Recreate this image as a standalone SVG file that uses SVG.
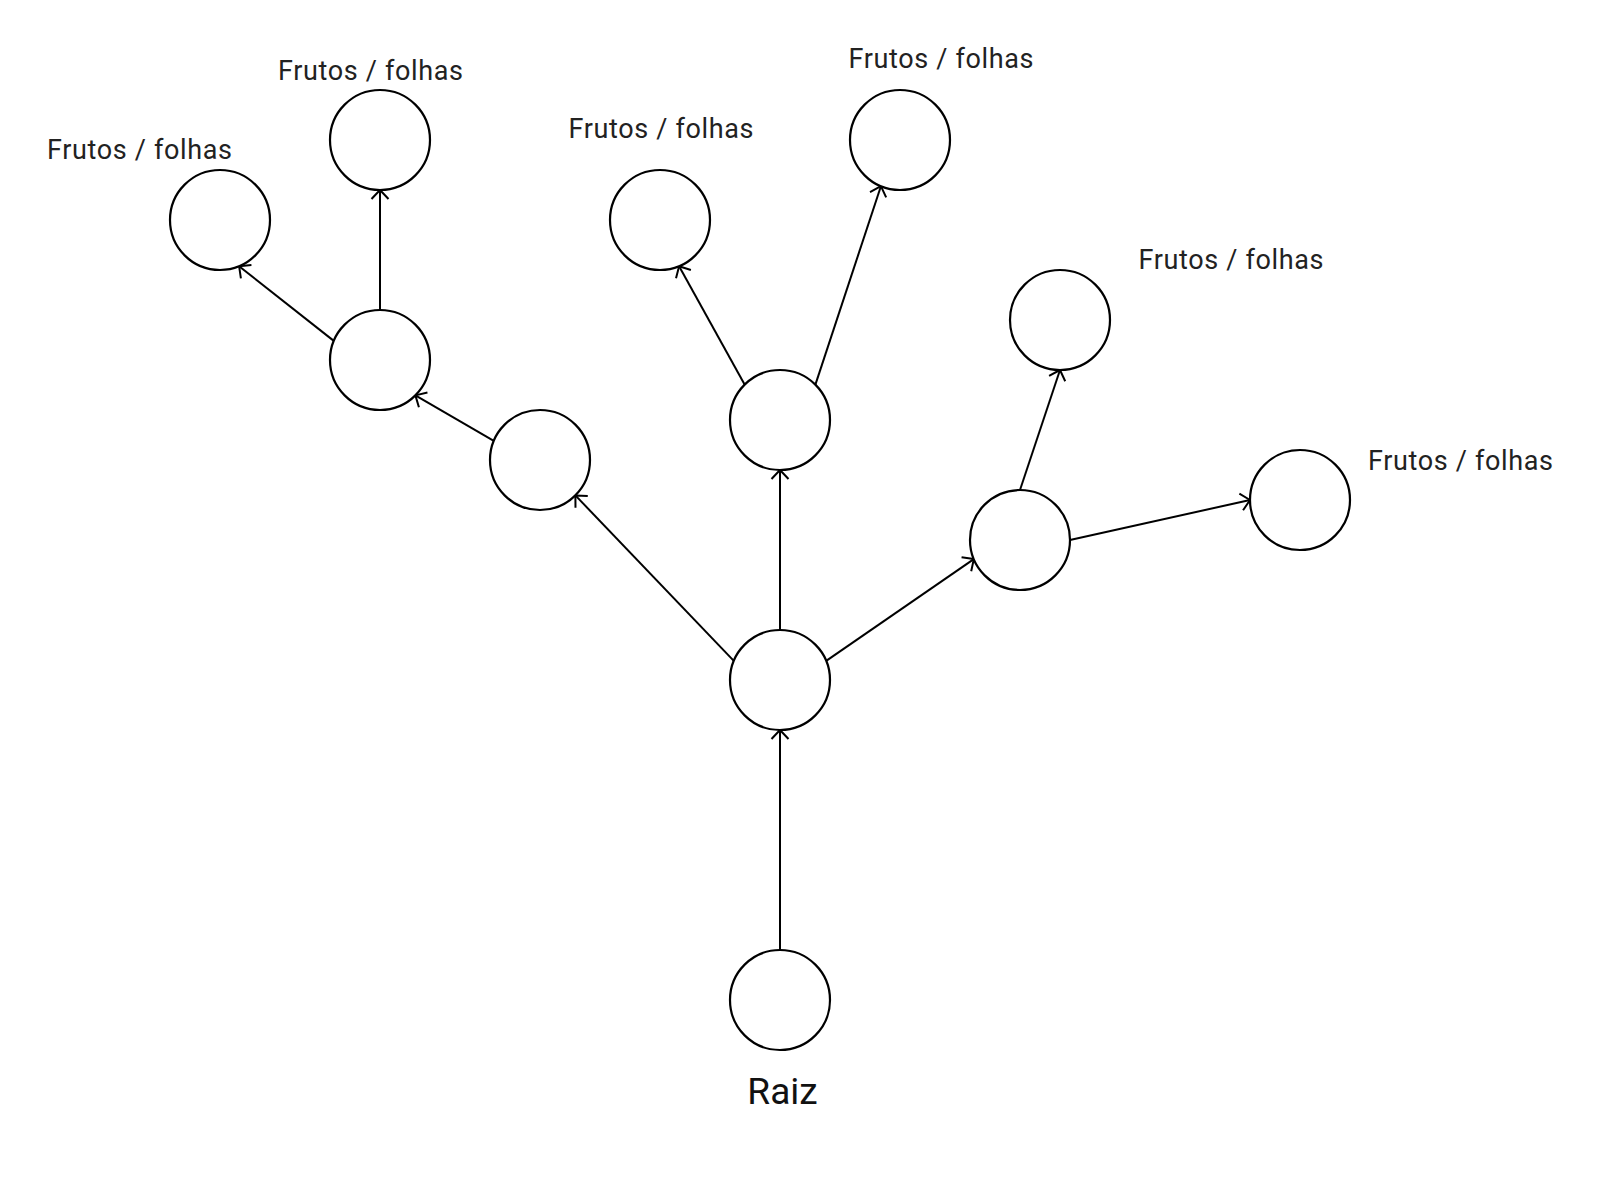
<svg xmlns="http://www.w3.org/2000/svg" width="1602" height="1184" viewBox="0 0 1602 1184">
<style>
.node{fill:#fff;stroke:#000;stroke-width:2.2}
.edge{stroke:#000;stroke-width:2;fill:none;marker-end:url(#arr)}
.lbl{font-family:Roboto,"Liberation Sans",sans-serif;font-size:27px;fill:#222}
.root{font-family:Roboto,"Liberation Sans",sans-serif;font-size:37px;fill:#111;text-anchor:middle}
</style>
<defs>
<marker id="arr" markerUnits="userSpaceOnUse" markerWidth="24" markerHeight="24" viewBox="-12 -12 24 24" refX="0" refY="0" orient="auto">
<path d="M-9,-8.5 L0,0 L-9,8.5" fill="none" stroke="#000" stroke-width="2" stroke-linejoin="round"/>
</marker>
</defs>
<rect width="1602" height="1184" fill="#fff"/>
<g id="connectors">
<line class="edge" x1="780" y1="950" x2="780" y2="730"/>
<line class="edge" x1="733.8" y1="660.9" x2="575.4" y2="495.4"/>
<line class="edge" x1="780" y1="630" x2="780" y2="470"/>
<line class="edge" x1="826.2" y1="660.9" x2="973.8" y2="559.1"/>
<line class="edge" x1="493.8" y1="440.9" x2="415.4" y2="395.4"/>
<line class="edge" x1="333.8" y1="340.9" x2="239.1" y2="266.2"/>
<line class="edge" x1="380" y1="310" x2="380" y2="190"/>
<line class="edge" x1="744.6" y1="384.6" x2="679.1" y2="266.2"/>
<line class="edge" x1="815.4" y1="384.6" x2="880.9" y2="186.2"/>
<line class="edge" x1="1020" y1="490" x2="1060" y2="370"/>
<line class="edge" x1="1070" y1="540" x2="1250" y2="500"/>
</g>
<g id="root"><circle class="node" cx="780" cy="1000" r="50"/><text class="root" x="782.5" y="1103.5">Raiz</text></g>
<g id="trunk"><circle class="node" cx="780" cy="680" r="50"/></g>
<g id="left1"><circle class="node" cx="540" cy="460" r="50"/></g>
<g id="left2"><circle class="node" cx="380" cy="360" r="50"/></g>
<g id="leafLL"><circle class="node" cx="220" cy="220" r="50"/><text class="lbl" x="47" y="158.5" textLength="185" lengthAdjust="spacing">Frutos / folhas</text></g>
<g id="leafLT"><circle class="node" cx="380" cy="140" r="50"/><text class="lbl" x="278" y="79.5" textLength="185" lengthAdjust="spacing">Frutos / folhas</text></g>
<g id="mid"><circle class="node" cx="780" cy="420" r="50"/></g>
<g id="leafML"><circle class="node" cx="660" cy="220" r="50"/><text class="lbl" x="568.5" y="137.5" textLength="185" lengthAdjust="spacing">Frutos / folhas</text></g>
<g id="leafMR"><circle class="node" cx="900" cy="140" r="50"/><text class="lbl" x="848.5" y="67.5" textLength="185" lengthAdjust="spacing">Frutos / folhas</text></g>
<g id="right1"><circle class="node" cx="1020" cy="540" r="50"/></g>
<g id="leafRT"><circle class="node" cx="1060" cy="320" r="50"/><text class="lbl" x="1138.5" y="268.5" textLength="185" lengthAdjust="spacing">Frutos / folhas</text></g>
<g id="leafRR"><circle class="node" cx="1300" cy="500" r="50"/><text class="lbl" x="1368" y="469.5" textLength="185" lengthAdjust="spacing">Frutos / folhas</text></g>
</svg>
